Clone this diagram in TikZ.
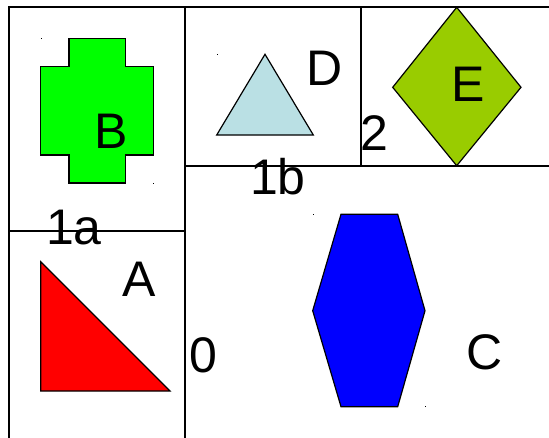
\documentclass[tikz,border=0pt]{standalone}
\usepackage{fontspec}
\setmainfont{Liberation Sans}
\usepackage{tikz}
\usetikzlibrary{positioning}
\definecolor{crossGreen}{RGB}{0,255,0}
\definecolor{wedgeRed}{RGB}{255,0,0}
\definecolor{hexBlue}{RGB}{0,0,255}
\definecolor{peakSky}{RGB}{186,224,228}
\definecolor{rhombLime}{RGB}{153,204,0}

\begin{document}
\begin{tikzpicture}[x=1pt,y=-1pt,
  gridline/.style={line width=1.8pt,line cap=rect},
  shapeline/.style={draw=black,line width=1.2pt,line join=miter},
  lbl/.style={font=\fontsize{50}{60}\selectfont,inner sep=0pt,anchor=center},
  tick/.style={fill=black,minimum size=1pt,inner sep=0pt}]
\useasboundingbox (0,0) rectangle (549,437);
% frame of the cells
\draw[gridline] (549,7) -- (9,7) -- (9,437);
\draw[gridline] (185,7) -- (185,437);
\draw[gridline] (9,231) -- (185,231);
\draw[gridline] (185,166) -- (549,166);
\draw[gridline] (361,7) -- (361,166);
% shapes
\draw[shapeline,fill=crossGreen] (69,38.7) -- (125.3,38.7) -- (125.3,66.7) -- (153.3,66.7)
  -- (153.3,155) -- (125.3,155) -- (125.3,183) -- (69,183) -- (69,155) -- (40.7,155)
  -- (40.7,66.7) -- (69,66.7) -- cycle;
\draw[shapeline,fill=wedgeRed] (40.7,261.7) -- (170,391) -- (40.7,391) -- cycle;
\draw[shapeline,fill=peakSky] (265,54.3) -- (313.3,135) -- (216.7,135) -- cycle;
\draw[shapeline,fill=rhombLime] (456.7,7.3) -- (521,87.3) -- (456.7,165.7) -- (392.7,87.3) -- cycle;
\draw[shapeline,fill=hexBlue] (341,214.3) -- (397.7,214.3) -- (425,310.7) -- (397.7,406.7)
  -- (341,406.7) -- (312.7,310.7) -- cycle;
% corner marks
\foreach \n/\px/\py in {b1/41.3/38.7, b2/153.3/183, d1/217/54.3, c1/313.3/214.3, c2/425.7/406.7}
  \node[tick] (mark-\n) at (\px,\py) {};
% labels
\foreach \n/\px/\py/\txt in {
  B/111/131/B, A/139/279/A, D/325/68/D, E/468/84/E, C/485/352/C,
  one-a/74/228/1a, one-b/278/177/1b, two/374/133/2, zero/203/355/0}
  \node[lbl] (lbl-\n) at (\px,\py) {\txt};
\end{tikzpicture}
\end{document}
